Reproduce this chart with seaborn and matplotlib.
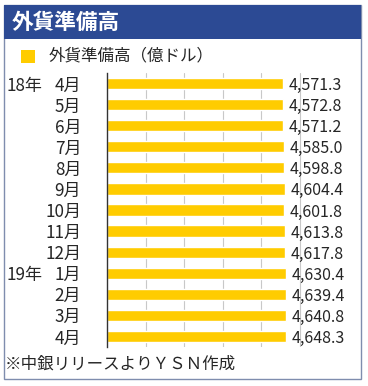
import numpy as np
import pandas as pd
import matplotlib
matplotlib.use("Agg")
import matplotlib.pyplot as plt
from matplotlib.patches import Rectangle
from matplotlib.transforms import blended_transform_factory
import seaborn as sns

# データ
year_labels = ['18年', '', '', '', '', '', '', '', '', '19年', '', '', '']
month_labels = ['4月', '5月', '6月', '7月', '8月', '9月', '10月', '11月', '12月',
                '1月', '2月', '3月', '4月']
reserves = [4571.3, 4572.8, 4571.2, 4585.0, 4598.8, 4604.4, 4601.8,
            4613.8, 4617.8, 4630.4, 4639.4, 4640.8, 4648.3]

sns.set_style("white")
plt.rcParams['font.family'] = ['Noto Sans CJK JP', 'DejaVu Sans']

W, H = 368, 386
fig = plt.figure(figsize=(W / 100, H / 100), dpi=100)

def fx(px):
    return px / W

def fy(py):
    return 1 - py / H

bar_color = '#FFCC00'
blue = '#2C4A94'

# 枠とタイトルバー
fig.patches.append(Rectangle((fx(4), fy(379)), fx(357), (379 - 5) / H, transform=fig.transFigure,
                             fill=False, edgecolor='#7F8DAE', linewidth=1.0))
fig.patches.append(Rectangle((fx(4), fy(39)), fx(357), (39 - 5) / H, transform=fig.transFigure,
                             facecolor=blue, edgecolor='none'))
fig.text(fx(12), fy(22), '外貨準備高', color='white', fontsize=15.6, fontweight='bold',
         va='center', ha='left')

# 凡例
fig.patches.append(Rectangle((fx(21), fy(63)), fx(14), 13 / H, transform=fig.transFigure,
                             facecolor=bar_color, edgecolor='none'))
fig.text(fx(49), fy(56), '外貨準備高（億ドル）', fontsize=11.9, va='center', ha='left')

# グラフ
ax = fig.add_axes([fx(107), fy(347), fx(216), (347 - 73) / H])
df = pd.DataFrame({'idx': range(len(reserves)), 'value': reserves})
sns.barplot(data=df, x='value', y='idx', orient='y', color=bar_color, saturation=1,
            width=0.53, ax=ax)

ax.set_xlim(0, 5600)
ax.set_ylim(len(reserves) - 0.5, -0.5)
ax.set_xticks([1000, 2000, 3000, 4000, 5000])
ax.set_xticklabels([])
ax.grid(axis='x', color='#C8C8C8', linewidth=0.8)
ax.set_axisbelow(True)
ax.tick_params(length=0, pad=18.5)
ax.set_yticks(range(len(reserves)))
ax.set_yticklabels(month_labels, fontsize=12.3)
ax.set_xlabel('')
ax.set_ylabel('')
for s in ['top', 'right', 'bottom']:
    ax.spines[s].set_visible(False)
ax.spines['left'].set_color('#333333')
ax.spines['left'].set_linewidth(1.0)

for i, v in enumerate(reserves):
    ax.annotate(f'{v:,.1f}', (v, i), xytext=(4, 0), textcoords='offset points',
                va='center_baseline', ha='left', fontsize=11.5, annotation_clip=False)

tr = blended_transform_factory(fig.transFigure, ax.transData)
for i, y in enumerate(year_labels):
    if y:
        fig.text(fx(7), i, y, transform=tr, fontsize=12.3, va='center_baseline', ha='left')

# 出典
fig.text(fx(5), fy(364), '※中銀リリースよりＹＳＮ作成', fontsize=11.9, va='center', ha='left')

fig.savefig('out.png', dpi=100)
